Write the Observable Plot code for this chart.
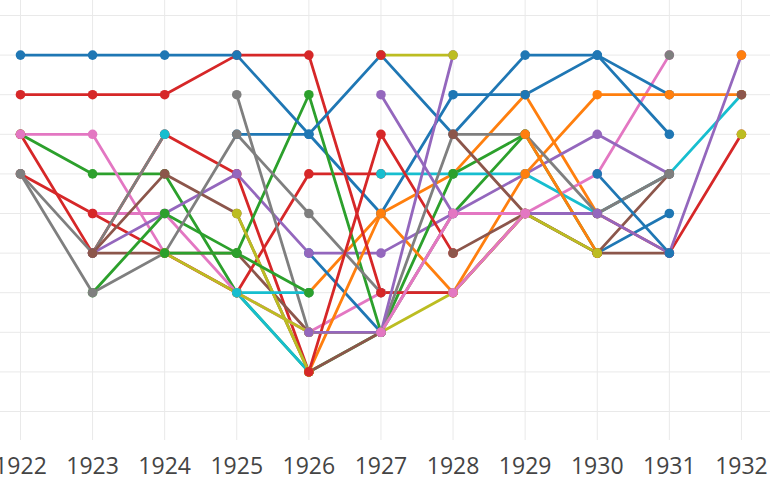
<!DOCTYPE html>
<html>
<head>
<meta charset="utf-8">
<script src="https://cdn.jsdelivr.net/npm/d3@7"></script>
<script src="https://cdn.jsdelivr.net/npm/@observablehq/plot@0.6"></script>
<style>
  html, body { margin: 0; padding: 0; background: #fff; }
  #chart svg { overflow: visible; display: block; }
</style>
</head>
<body>
<div id="chart"></div>
<script>
const years = [1922, 1923, 1924, 1925, 1926, 1927, 1928, 1929, 1930, 1931, 1932];
const levels = [0, 1, 2, 3, 4, 5, 6, 7, 8, 9, 10];
const groups = ["Group B", "Group O", "Group G", "Group R", "Group P", "Group Br", "Group Pk", "Group Gy", "Group Ol", "Group C"];
const _ = null;

// values 1922..1932 for each series (listed in drawing order below)
const G1  = [3,4,4,7,9,8,5,3,6,_,_];
const R2  = [3,6,3,4,9,_,_,_,_,_,_];
const Pk2 = [_,5,5,7,8,7,_,_,_,_,_];
const O2  = [_,_,_,_,7,5,4,2,5,_,_];
const B3a = [_,_,_,_,6,8,_,_,_,_,_];
const Br1 = [_,6,6,6,8,_,_,_,_,_,_];
const C2  = [_,_,_,7,9,_,_,_,_,_,_];
const B4  = [_,_,_,_,_,_,_,_,6,5,_];
const Pk1 = [3,3,6,7,8,8,5,5,4,1,_];
const R3  = [4,5,6,7,4,4,_,_,_,_,_];
const P1  = [_,6,5,4,6,6,5,4,3,4,_];
const B2  = [_,_,_,3,3,5,2,2,1,2,_];
const Gy4 = [4,6,3,_,_,_,_,_,_,_,_];
const C3  = [_,_,_,_,_,4,4,4,5,4,2];
const Gy3 = [_,_,_,_,_,_,_,_,_,1,_];
const G2  = [_,7,5,6,2,8,4,3,_,_,_];
const Br2 = [_,6,4,5,9,8,_,_,_,_,_];
const O1  = [_,_,_,_,9,5,7,4,2,2,2];
const Gy1 = [4,7,6,3,5,7,7,5,5,4,_];
const Ol4 = [_,_,_,5,9,_,_,_,_,_,_];
const Br5 = [_,_,_,_,_,_,_,_,_,_,2];
const R1  = [2,2,2,1,1,7,7,5,5,6,3];
const R5  = [_,_,_,_,9,3,6,_,_,_,_];
const B1  = [1,1,1,1,3,1,3,1,1,3,_];
const Br6 = [_,_,_,_,_,_,6,5,6,4,_];
const Ol3 = [_,_,_,_,_,_,_,_,_,_,3];
const Gy2 = [_,_,_,2,8,8,3,3,5,4,_];
const Br3 = [_,_,_,_,_,_,3,5,6,6,_];
const O4  = [_,_,_,_,_,_,_,3,6,_,_];
const P2  = [_,_,_,_,_,2,5,5,5,6,1];
const Ol1 = [_,_,6,7,8,8,7,5,6,_,_];
const B3b = [_,_,_,_,_,_,_,_,4,6,_];
const O3  = [_,_,_,_,_,_,_,_,_,_,1];
const C1  = [_,_,3,_,_,_,_,_,_,_,_];
const C4  = [_,_,_,7,7,_,_,_,_,_,_];
const P3  = [_,_,_,_,8,8,1,_,_,_,_];
const Pk4 = [_,_,_,_,_,_,7,5,_,_,_];
const G3  = [_,_,6,6,7,_,_,_,_,_,_];
const Ol2 = [_,_,_,_,_,1,1,_,_,_,_];
const Pk3 = [_,_,_,_,_,8,5,5,_,_,_];
const R6  = [_,_,_,_,_,1,_,_,_,_,_];

const seriesList = [
  ["Group G","G1",G1],["Group R","R2",R2],["Group Pk","Pk2",Pk2],["Group O","O2",O2],["Group B","B3a",B3a],
  ["Group Br","Br1",Br1],["Group C","C2",C2],["Group B","B4",B4],["Group Pk","Pk1",Pk1],["Group R","R3",R3],
  ["Group P","P1",P1],["Group B","B2",B2],["Group Gy","Gy4",Gy4],["Group C","C3",C3],["Group Gy","Gy3",Gy3],
  ["Group G","G2",G2],["Group Br","Br2",Br2],["Group O","O1",O1],["Group Gy","Gy1",Gy1],["Group Ol","Ol4",Ol4],
  ["Group Br","Br5",Br5],["Group R","R1",R1],["Group R","R5",R5],["Group B","B1",B1],["Group Br","Br6",Br6],
  ["Group Ol","Ol3",Ol3],["Group Gy","Gy2",Gy2],["Group Br","Br3",Br3],["Group O","O4",O4],["Group P","P2",P2],
  ["Group Ol","Ol1",Ol1],["Group B","B3b",B3b],["Group O","O3",O3],["Group C","C1",C1],["Group C","C4",C4],
  ["Group P","P3",P3],["Group Pk","Pk4",Pk4],["Group G","G3",G3],["Group Ol","Ol2",Ol2],["Group Pk","Pk3",Pk3],
  ["Group R","R6",R6]
];

const rows = [];
seriesList.forEach(([group, name, vals]) => {
  vals.forEach((v, j) => rows.push({group, series: name, year: years[j], value: v}));
});
const points = rows.filter(d => d.value != null);

const chart = Plot.plot({
  width: 770,
  height: 480,
  marginTop: 0,
  marginRight: 0,
  marginBottom: 40,
  marginLeft: 0,
  style: {background: "#fff", fontFamily: "'Open Sans', Verdana, Arial, sans-serif"},
  x: {domain: [1921.723, 1932.403], range: [0, 770], label: null},
  y: {domain: [-0.379, 10.732], range: [0, 440], axis: null},
  color: {type: "ordinal", domain: groups, range: ["#1f77b4","#ff7f0e","#2ca02c","#d62728","#9467bd","#8c564b","#e377c2","#7f7f7f","#bcbd22","#17becf"]},
  marks: [
    Plot.ruleY(levels, {stroke: "#e9e9e9", strokeWidth: 1}),
    Plot.ruleX(years, {stroke: "#e9e9e9", strokeWidth: 1, y1: -0.379, y2: 10.732}),
    Plot.axisX({ticks: years, tickSize: 0, tickPadding: 17, fontSize: 23, fill: "#444", label: null, tickFormat: d => String(d)}),
    Plot.line(rows, {x: "year", y: "value", z: "series", stroke: "group", strokeWidth: 2.8}),
    Plot.dot(points, {x: "year", y: "value", fill: "group", r: 4.8, stroke: "none"})
  ]
});
document.getElementById("chart").appendChild(chart);
</script>
</body>
</html>
